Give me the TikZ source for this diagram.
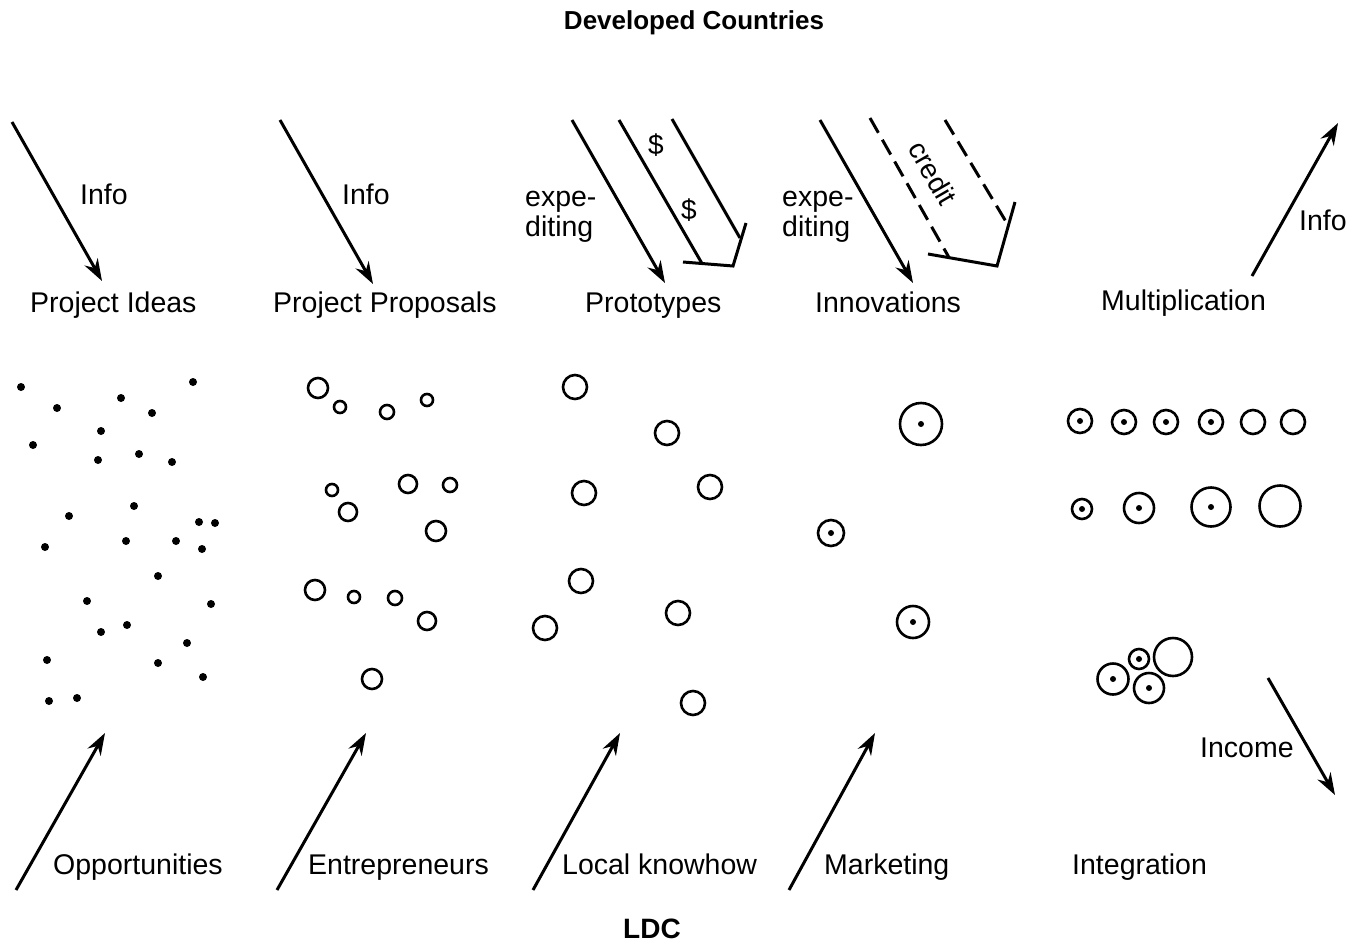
\documentclass[tikz,border=0pt]{standalone}
\usepackage{fontspec}
\setmainfont{Liberation Sans}
\usetikzlibrary{arrows.meta}

\begin{document}
\begin{tikzpicture}[x=1pt,y=-1pt,>={Stealth[length=22pt,width=15pt]},
						txt/.style={font=\fontsize{28.5}{32}\selectfont,inner sep=0pt,anchor=base west},
						head/.style={font=\bfseries\fontsize{26}{30}\selectfont,inner sep=0pt,anchor=base},
						sign/.style={font=\fontsize{28}{32}\selectfont,inner sep=0pt},
						flow/.style={->,line width=3pt},
						funds/.style={line width=3pt},
						loan/.style={funds,dash pattern=on 17pt off 8pt},
						seed/.style={circle,fill,inner sep=0pt,minimum size=8pt},
						firm/.style={circle,draw,line width=2.6pt,inner sep=0pt},
						grown/.style={firm,path picture={\fill (path picture bounding box.center) circle (3pt);}}]

						\useasboundingbox (0,0) rectangle (1367,942);

						%%% Headings
						\node [head] (dev) at (694,30) {Developed Countries};
						\node [head,font=\bfseries\fontsize{28}{30}\selectfont] (ldc) at (652,938) {LDC};

						%%% Top row
						\node [txt] (ideas) at (30,312) {Project Ideas};
						\node [txt] (proposals) at (273,312) {Project Proposals};
						\node [txt] (protos) at (585,312) {Prototypes};
						\node [txt] (innov) at (815,312) {Innovations};
						\node [txt] (multi) at (1101,310) {Multiplication};

						%% Info arrows
						\coordinate (ideasS) at (12,122);
						\coordinate (ideasT) at (102,281);
						\draw [flow] (ideasS) -- (ideasT);
						\node [txt] (infoA) at (80,204) {Info};
						\coordinate (propS) at (280,120);
						\coordinate (propT) at (373,284);
						\draw [flow] (propS) -- (propT);
						\node [txt] (infoB) at (342,204) {Info};

						%% Prototypes: expediting and money
						\coordinate (protS) at (572,120);
						\coordinate (protT) at (665,283);
						\draw [flow] (protS) -- (protT);
						\node [txt] (expA) at (525,206) {expe-};
						\node [txt] (ditA) at (525,236) {diting};
						\coordinate (cashA) at (619,120);
						\coordinate (cashB) at (672,119);
						\coordinate (trayL) at (683,262);
						\coordinate (trayA) at (702,263.5);
						\coordinate (trayC) at (733,266);
						\coordinate (trayB) at (740,238);
						\coordinate (trayR) at (746,223);
						\draw [funds] (cashA) -- (trayA);
						\draw [funds] (cashB) -- (trayB);
						\draw [funds] (trayL) -- (trayC) -- (trayR);
						\node [sign] (dolA) at (656,145) {\$};
						\node [sign] (dolB) at (689,210) {\$};

						%% Innovations: expediting and credit
						\coordinate (innS) at (820,120);
						\coordinate (innT) at (913,283);
						\draw [flow] (innS) -- (innT);
						\node [txt] (expB) at (782,206) {expe-};
						\node [txt] (ditB) at (782,236) {diting};
						\coordinate (credA) at (870,118);
						\coordinate (credB) at (945,120);
						\coordinate (basL) at (928,254);
						\coordinate (basA) at (949,257.5);
						\coordinate (basC) at (997,266);
						\coordinate (basB) at (1008,225);
						\coordinate (basR) at (1015,202);
						\draw [loan] (credA) -- (basA);
						\draw [loan] (credB) -- (basB);
						\draw [funds] (basL) -- (basC) -- (basR);
						\node [sign,rotate=-60] (credit) at (933,173) {credit};

						%% Multiplication
						\coordinate (mulS) at (1252,276);
						\coordinate (mulT) at (1338,123);
						\draw [flow] (mulS) -- (mulT);
						\node [txt] (infoC) at (1299,230) {Info};

						%%% Opportunities (dots)
						\foreach \x/\y [count=\i] in {21/387,193/382,57/408,121/398,152/413,101/431,33/445,98/460,
							139/454,172/462,134/506,69/516,199/522,215/523,45/547,126/541,176/541,202/549,
							158/576,87/601,211/604,127/625,101/632,187/643,47/660,158/663,203/677,49/701,77/698}
							\node [seed] (dot\i) at (\x,\y) {};

						%%% Entrepreneurs (small circles)
						\foreach \x/\y/\d [count=\i] in {318/388/20,340/407/12,387/412/14,427/400/12,332/490/12,
							408/484/18,450/485/14,348/512/18,436/531/20,315/590/20,354/597/12,395/598/14,
							427/621/18,372/679/20}
							\node [firm,minimum size=\d pt] (ent\i) at (\x,\y) {};

						%%% Local knowhow
						\foreach \x/\y [count=\i] in {575/387,667/433,584/493,710/487,581/581,545/628,678/613,693/703}
							\node [firm,minimum size=24pt] (know\i) at (\x,\y) {};

						%%% Marketing
						\foreach \x/\y/\d [count=\i] in {921/424/42,831/533/26,913/622/32}
							\node [grown,minimum size=\d pt] (mark\i) at (\x,\y) {};

						%%% Integration
						\foreach \x/\y/\d [count=\i] in {1080/421/24,1124/422/24,1166/422/24,1211/422/24,
							1082/509/20,1139/508/30,1211/507/39,1113/679/31,1139/659/20,1149/688/30}
							\node [grown,minimum size=\d pt] (int\i) at (\x,\y) {};
						\foreach \x/\y/\d [count=\i] in {1253/422/24,1293/422/24,1280/506/41,1173/657/38}
							\node [firm,minimum size=\d pt] (free\i) at (\x,\y) {};

						%% Income
						\coordinate (incS) at (1268,678);
						\coordinate (incT) at (1335,795);
						\draw [flow] (incS) -- (incT);
						\node [txt] (income) at (1200,757) {Income};

						%%% Bottom row
						\node [txt] (opp) at (53,874) {Opportunities};
						\node [txt] (entre) at (308,874) {Entrepreneurs};
						\node [txt] (local) at (562,874) {Local knowhow};
						\node [txt] (market) at (824,874) {Marketing};
						\node [txt] (integr) at (1072,874) {Integration};

						%% Upward arrows
						\foreach \sx/\tx [count=\i] in {16/105,277/366,533/620,789/875}
						{
							\coordinate (upS\i) at (\sx,890);
							\coordinate (upT\i) at (\tx,733);
							\draw [flow] (upS\i) -- (upT\i);
						}
					\end{tikzpicture}
\end{document}
